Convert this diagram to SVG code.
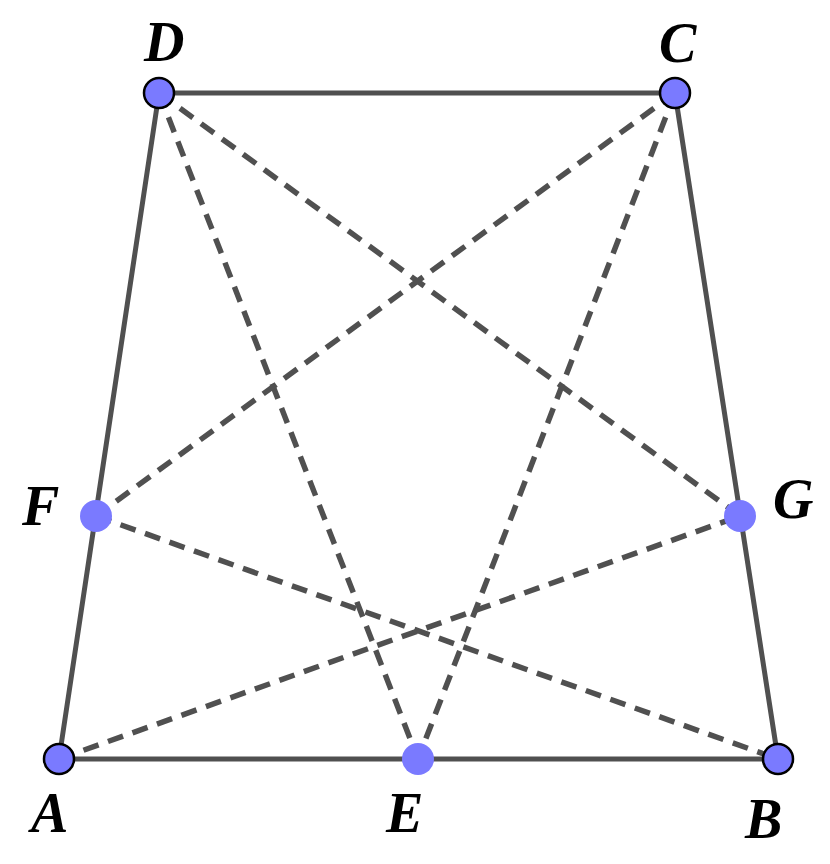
<svg xmlns="http://www.w3.org/2000/svg" width="830" height="864" viewBox="0 0 830 864">
<style>
.solid{stroke:#505050;stroke-width:5;fill:none;stroke-linecap:round}
.dash{stroke:#505050;stroke-width:5.5;fill:none;stroke-dasharray:16 10}
.pt{fill:#7a7aff;stroke:#000;stroke-width:2.5}
.pt2{fill:#7a7aff}
.lbl{font-family:"Liberation Serif",serif;font-style:italic;font-weight:bold;font-size:56px;fill:#000}
</style>
<rect width="830" height="864" fill="#fff"/>
<g id="connectors">
<line class="dash" x1="159" y1="93" x2="418" y2="759"/>
<line class="dash" x1="675" y1="93" x2="418" y2="759"/>
<line class="dash" x1="159" y1="93" x2="740" y2="516"/>
<line class="dash" x1="675" y1="93" x2="96" y2="516"/>
<line class="dash" x1="96" y1="516" x2="778" y2="759"/>
<line class="dash" x1="59" y1="759" x2="740" y2="516"/>
<line class="solid" x1="59" y1="759" x2="159" y2="93"/>
<line class="solid" x1="159" y1="93" x2="675" y2="93"/>
<line class="solid" x1="675" y1="93" x2="778" y2="759"/>
<line class="solid" x1="59" y1="759" x2="778" y2="759"/>
</g>
<g id="D"><circle class="pt" cx="159" cy="93" r="15"/><text class="lbl" x="144" y="61">D</text></g>
<g id="C"><circle class="pt" cx="675" cy="93" r="15"/><text class="lbl" x="659" y="62">C</text></g>
<g id="A"><circle class="pt" cx="59" cy="759" r="15"/><text class="lbl" x="31" y="832">A</text></g>
<g id="B"><circle class="pt" cx="778" cy="759" r="15"/><text class="lbl" x="745" y="838">B</text></g>
<g id="E"><circle class="pt2" cx="418" cy="759" r="16"/><text class="lbl" x="386" y="832">E</text></g>
<g id="F"><circle class="pt2" cx="96" cy="516" r="16"/><text class="lbl" x="22" y="525">F</text></g>
<g id="G"><circle class="pt2" cx="740" cy="516" r="16"/><text class="lbl" x="773" y="518">G</text></g>
</svg>
